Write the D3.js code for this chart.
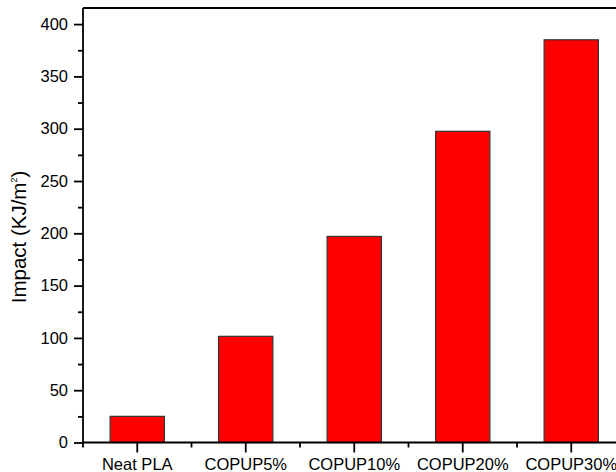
<!DOCTYPE html>
<html>
<head>
<meta charset="utf-8">
<script src="https://cdn.jsdelivr.net/npm/d3@7/dist/d3.min.js"></script>
<style>
  html, body { margin: 0; padding: 0; background: #fff; }
  svg { display: block; }
  text { font-family: "Liberation Sans", Arial, sans-serif; fill: #000; }
</style>
</head>
<body>
<svg id="chart" width="616" height="472"></svg>
<script>
const categories = ["Neat PLA", "COPUP5%", "COPUP10%", "COPUP20%", "COPUP30%"];
const impactValues = [25, 101.5, 197, 297.5, 385];
const yTickValues = [0, 50, 100, 150, 200, 250, 300, 350, 400];
const yMinorTickValues = [25, 75, 125, 175, 225, 275, 325, 375];

(function () {
const svg = d3.select("#chart");
const mLeft = 83, mTop = 8, mBottom = 442.5;
const step = 108.5;
const mRight = mLeft + step * categories.length;

const x = d3.scaleBand().domain(categories).range([mLeft, mRight])
  .paddingInner(0.5).paddingOuter(0.25);
const y = d3.scaleLinear().domain([0, 415.4]).range([mBottom, mTop]);

// bars
svg.append("g").selectAll("rect").data(categories).join("rect")
  .attr("x", d => x(d))
  .attr("y", (d, i) => y(impactValues[i]))
  .attr("width", x.bandwidth())
  .attr("height", (d, i) => y(0) - y(impactValues[i]))
  .attr("fill", "#ff0000")
  .attr("stroke", "#333")
  .attr("stroke-width", 1.2);

// frame: top line
svg.append("line").attr("x1", mLeft).attr("x2", 616).attr("y1", mTop).attr("y2", mTop)
  .attr("stroke", "#000").attr("stroke-width", 1.8);

// y axis
const yAxis = d3.axisLeft(y).tickValues(yTickValues).tickSize(9).tickPadding(6).tickSizeOuter(0);
const gy = svg.append("g").attr("transform", `translate(${mLeft},0)`).call(yAxis);
gy.select(".domain").attr("d", `M0,${mTop}V${mBottom}`).attr("stroke-width", 1.8);
gy.selectAll(".tick line").attr("stroke-width", 1.8);
gy.selectAll(".tick text").attr("font-size", 16.5).attr("font-family", "Liberation Sans, Arial, sans-serif");
const gyMinor = svg.append("g").attr("transform", `translate(${mLeft},0)`)
  .call(d3.axisLeft(y).tickValues(yMinorTickValues).tickSize(5).tickFormat(""));
gyMinor.select(".domain").remove();
gyMinor.selectAll(".tick line").attr("stroke-width", 1.8);

// x axis
const xAxis = d3.axisBottom(x).tickSize(10).tickPadding(6).tickSizeOuter(0);
const gx = svg.append("g").attr("transform", `translate(0,${mBottom})`).call(xAxis);
gx.select(".domain").attr("d", `M${mLeft},0H616`).attr("stroke-width", 1.8);
gx.selectAll(".tick line").attr("stroke-width", 1.8);
gx.selectAll(".tick text").attr("font-size", 16.5).attr("font-family", "Liberation Sans, Arial, sans-serif")
  .attr("y", 15.5).attr("dy", "0.71em");
// minor x ticks at band boundaries
const boundaries = categories.map(c => x(c) - x.step() * x.paddingInner() / 2);
svg.append("g").selectAll("line").data(boundaries).join("line")
  .attr("x1", d => d).attr("x2", d => d)
  .attr("y1", mBottom).attr("y2", mBottom + 5)
  .attr("stroke", "#000").attr("stroke-width", 1.8);

// y title
const title = svg.append("text")
  .attr("transform", `translate(26,237) rotate(-90)`)
  .attr("text-anchor", "middle")
  .attr("font-size", 20.5);
title.append("tspan").text("Impact (KJ/m");
title.append("tspan").text("2").attr("font-size", 9).attr("dy", -9);
title.append("tspan").text(")").attr("dy", 9);
})();
</script>
</body>
</html>
